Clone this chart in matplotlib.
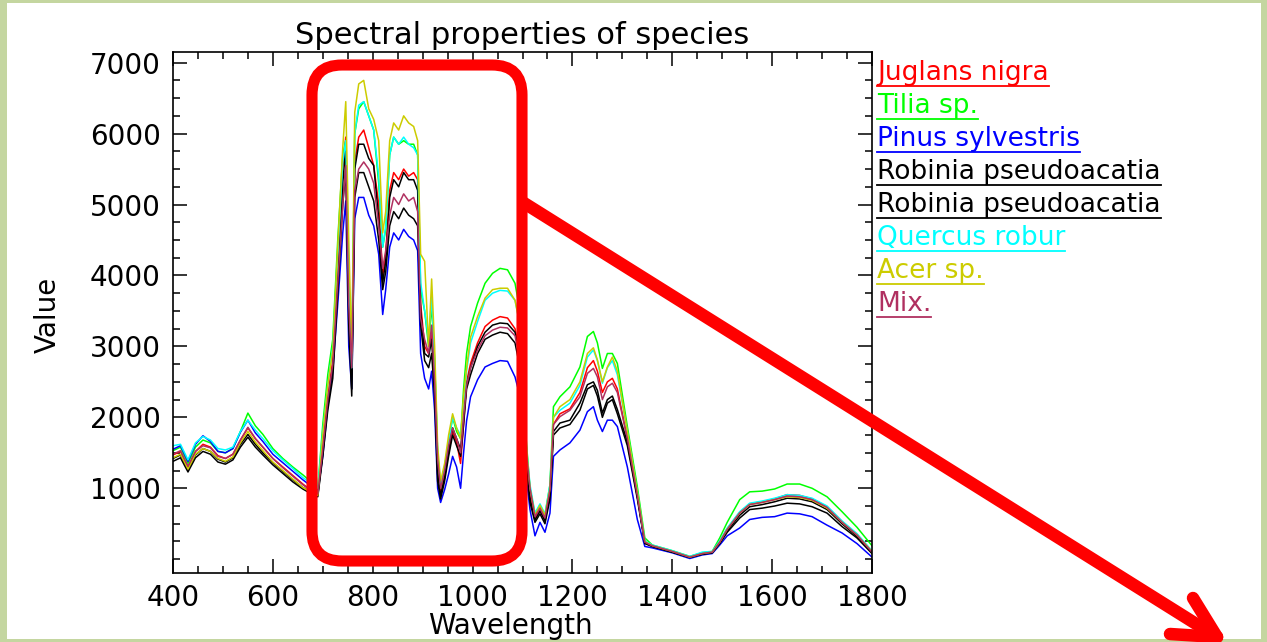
import matplotlib
matplotlib.use('Agg')
import matplotlib.pyplot as plt
from matplotlib.patches import FancyBboxPatch, Rectangle
from matplotlib.ticker import MultipleLocator

# wavelength grid (nm)
wavelength = [400, 415, 430, 445, 460, 475, 490, 505, 520, 535, 550, 565, 580, 600, 620, 640, 660, 675, 690,
              700, 710, 720, 730, 740, 746, 752, 758, 764, 772, 782, 792, 802, 812, 820, 826, 834, 842, 852, 862,
              872, 882, 890, 896, 904, 912, 918, 924, 930, 936,
              944, 952, 960, 968, 976, 982, 988, 996, 1010, 1025, 1040, 1055, 1070, 1085, 1095, 1105, 1115, 1125,
              1135, 1145, 1155, 1162, 1175,
              1195, 1215, 1230, 1242, 1250, 1260, 1270, 1280, 1290, 1310, 1330, 1345, 1360, 1400, 1435, 1460, 1480,
              1495, 1510, 1535, 1555, 1580, 1605, 1630, 1655, 1680, 1710, 1740, 1770, 1800]

juglans = [1470, 1520, 1300, 1520, 1620, 1580, 1460, 1420, 1480, 1680, 1850, 1700, 1580, 1420, 1300, 1180, 1060, 980, 920,
           1600, 2300, 2800, 4000, 5500, 5950, 3800, 2600, 5600, 5950, 6050, 5800, 5550, 5000, 4000, 4300, 5200, 5450, 5350, 5500,
           5400, 5450, 5350, 3600, 3000, 2900, 3200, 2500, 1300, 950,
           1200, 1500, 1800, 1650, 1350, 1900, 2500, 2760, 3050, 3280, 3370, 3420, 3400, 3250, 2900, 1600, 900, 580,
           700, 560, 950, 1900, 2050,
           2120, 2350, 2700, 2800, 2650, 2350, 2500, 2550, 2400, 1700, 900, 240, 190, 110, 30, 80, 100,
           250, 430, 660, 780, 810, 850, 910, 900, 850, 740, 530, 350, 100]

tilia = [1530, 1580, 1350, 1580, 1680, 1640, 1520, 1500, 1560, 1800, 2060, 1880, 1760, 1560, 1420, 1300, 1190, 1100, 1000,
         1900, 2600, 3100, 4500, 5700, 5900, 4000, 2700, 6000, 6350, 6450, 6250, 6050, 5300, 4400, 4650, 5700, 5950, 5850, 5900,
         5850, 5850, 5700, 3800, 3500, 3000, 3600, 2800, 1500, 1000,
         1300, 1650, 2000, 1800, 1700, 2400, 2900, 3280, 3610, 3890, 4030, 4100, 4080, 3890, 3500, 1900, 1000, 640,
         760, 620, 1050, 2150, 2290,
         2430, 2710, 3140, 3210, 3050, 2690, 2900, 2900, 2760, 1870, 1020, 300, 200, 120, 40, 90, 110,
         300, 520, 840, 950, 960, 990, 1060, 1060, 1000, 880, 670, 450, 190]

pinus = [1550, 1600, 1380, 1620, 1740, 1660, 1520, 1500, 1560, 1790, 1960, 1780, 1660, 1480, 1360, 1240, 1120, 1040, 960,
         1450, 2150, 2650, 3600, 4600, 5050, 3000, 2400, 4800, 5100, 5100, 4850, 4700, 4300, 3450, 3800, 4400, 4600, 4500, 4650,
         4550, 4500, 4350, 2900, 2550, 2400, 2650, 2100, 1000, 800,
         980, 1200, 1450, 1300, 1000, 1500, 1950, 2290, 2530, 2710, 2760, 2800, 2790, 2570, 2300, 1300, 700, 330,
         520, 380, 650, 1450, 1540,
         1640, 1820, 2080, 2150, 1960, 1800, 1960, 1960, 1870, 1300, 560, 180, 160, 90, 10, 60, 80,
         200, 330, 440, 560, 590, 600, 650, 640, 600, 480, 370, 220, 30]

robinia_1 = [1420, 1470, 1260, 1470, 1560, 1520, 1410, 1370, 1430, 1620, 1760, 1620, 1500, 1360, 1240, 1120, 1010, 950, 900,
             1500, 2200, 2700, 3900, 5300, 5800, 3500, 2400, 5500, 5850, 5850, 5650, 5550, 4800, 3900, 4200, 5100, 5350, 5250, 5450,
             5350, 5350, 5200, 3500, 2900, 2850, 3100, 2400, 1200, 900,
             1150, 1550, 1850, 1700, 1550, 2000, 2450, 2700, 3000, 3200, 3300, 3330, 3320, 3200, 2850, 1550, 850, 550,
             680, 540, 900, 1800, 1920,
             1960, 2200, 2460, 2500, 2380, 2060, 2250, 2300, 2110, 1650, 880, 230, 180, 100, 25, 75, 95,
             230, 400, 620, 740, 770, 810, 860, 850, 810, 700, 500, 320, 90]

robinia_2 = [1380, 1430, 1230, 1430, 1520, 1480, 1370, 1340, 1400, 1580, 1720, 1580, 1470, 1330, 1210, 1090, 990, 930, 880,
             1450, 2100, 2550, 3750, 5000, 5500, 3300, 2300, 5100, 5450, 5450, 5250, 5050, 4500, 3800, 4050, 4700, 4900, 4800, 4950,
             4850, 4800, 4700, 3300, 2800, 2700, 2900, 2300, 1100, 850,
             1100, 1450, 1750, 1600, 1450, 1900, 2400, 2600, 2900, 3100, 3160, 3200, 3180, 3050, 2700, 1500, 800, 520,
             640, 500, 850, 1750, 1850,
             1900, 2100, 2400, 2450, 2300, 2000, 2200, 2250, 2050, 1600, 850, 220, 180, 100, 25, 70, 90,
             220, 380, 580, 700, 720, 750, 790, 780, 740, 650, 460, 300, 80]

quercus = [1600, 1620, 1400, 1640, 1730, 1680, 1560, 1540, 1580, 1800, 1960, 1820, 1700, 1530, 1400, 1280, 1150, 1080, 1000,
           1800, 2450, 3000, 4300, 5600, 5900, 4000, 2700, 6000, 6400, 6450, 6250, 6050, 5400, 4400, 4700, 5700, 5950, 5850, 5950,
           5850, 5800, 5700, 3900, 3500, 3100, 3700, 2800, 1500, 1050,
           1300, 1650, 2000, 1850, 1750, 2200, 2650, 3050, 3350, 3650, 3750, 3790, 3780, 3650, 3300, 1800, 1050, 650,
           780, 640, 1050, 2000, 2100,
           2200, 2450, 2850, 2950, 2800, 2480, 2700, 2800, 2600, 1800, 950, 260, 200, 120, 40, 100, 110,
           260, 440, 670, 790, 820, 860, 910, 900, 860, 750, 540, 360, 120]

acer = [1430, 1480, 1270, 1480, 1560, 1520, 1420, 1380, 1440, 1640, 1800, 1650, 1530, 1370, 1250, 1130, 1010, 950, 900,
        1750, 2450, 2950, 4400, 5800, 6450, 4500, 2900, 6300, 6700, 6750, 6350, 6200, 5900, 4600, 4900, 5900, 6150, 6050, 6250,
        6150, 6100, 5900, 4300, 4200, 3000, 3950, 3000, 1600, 1100,
        1350, 1750, 2050, 1850, 1700, 2300, 2700, 3130, 3420, 3680, 3800, 3820, 3820, 3650, 3300, 1800, 1000, 620,
        760, 620, 1000, 2000, 2150,
        2250, 2500, 2900, 2980, 2810, 2500, 2710, 2850, 2650, 1800, 950, 250, 190, 110, 30, 80, 100,
        240, 420, 650, 770, 800, 840, 880, 870, 830, 720, 520, 340, 110]

mix = [1480, 1530, 1310, 1520, 1600, 1570, 1450, 1420, 1480, 1680, 1860, 1700, 1580, 1420, 1290, 1170, 1050, 970, 920,
       1550, 2250, 2750, 3900, 5000, 5550, 3600, 2700, 5200, 5500, 5600, 5500, 5300, 4700, 4100, 4350, 4850, 5100, 5000, 5150,
       5050, 5100, 4900, 3400, 3100, 2900, 3300, 2500, 1400, 1000,
       1250, 1600, 1850, 1700, 1500, 2000, 2450, 2700, 2950, 3150, 3230, 3270, 3260, 3150, 2800, 1700, 1000, 600,
       720, 580, 980, 1900, 2010,
       2100, 2290, 2620, 2690, 2570, 2250, 2430, 2480, 2350, 1700, 900, 240, 190, 110, 30, 80, 100,
       240, 420, 650, 770, 800, 840, 890, 880, 840, 730, 520, 340, 100]

species = ["Juglans nigra", "Tilia sp.", "Pinus sylvestris", "Robinia pseudoacatia",
           "Robinia pseudoacatia", "Quercus robur", "Acer sp.", "Mix."]
series = [juglans, tilia, pinus, robinia_1, robinia_2, quercus, acer, mix]
colors = ['#ff0000', '#00ff00', '#0000ff', '#000000', '#000000', '#00ffff', '#cccc00', '#b03060']

W, H = 1267, 642
fig = plt.figure(figsize=(W / 100, H / 100), dpi=100, facecolor='#c4d6a0')

# main plot area
ax = fig.add_axes([173 / W, 1 - 572.7 / H, (872 - 173) / W, (572.7 - 52) / H], zorder=2)
for vals, c in zip(series, colors):
    ax.plot(wavelength, vals, color=c, lw=1.1)

ax.set_xlim(400, 1800)
ax.set_ylim(-190, 7150)
ax.set_xticks(range(400, 1801, 200))
ax.set_yticks(range(1000, 7001, 1000))
ax.xaxis.set_minor_locator(MultipleLocator(50))
ax.yaxis.set_minor_locator(MultipleLocator(250))
ax.tick_params(which='both', direction='in', top=True, right=True, width=1.1, labelsize=20)
ax.tick_params(which='major', length=10)
ax.tick_params(which='minor', length=5)
ax.tick_params(axis='y', pad=9)
ax.tick_params(axis='x', pad=8)
for s in ax.spines.values():
    s.set_linewidth(1.2)

# overlay in pixel coordinates for frame, texts and the red marks
ov = fig.add_axes([0, 0, 1, 1], zorder=1)
ov.set_xlim(0, W)
ov.set_ylim(H, 0)
ov.axis('off')
ov.add_patch(Rectangle((7, 3), W - 13, H - 6, facecolor='white', edgecolor='none'))

top = fig.add_axes([0, 0, 1, 1], zorder=3)
top.set_xlim(0, W)
top.set_ylim(H, 0)
top.axis('off')
top.patch.set_alpha(0)

top.text(522, 44, "Spectral properties of species", fontsize=22, ha='center', va='baseline')
top.text(510, 634, "Wavelength", fontsize=20, ha='center', va='baseline')
top.text(48, 315, "Value", fontsize=20, rotation=90, ha='center', va='center')

labels = []
for i, (name, c) in enumerate(zip(species, colors)):
    t = top.text(877, 80 + 33 * i, name, fontsize=19, color=c, ha='left', va='baseline')
    labels.append(t)

fig.canvas.draw()
inv = top.transData.inverted()
for t, c in zip(labels, colors):
    bb = t.get_window_extent()
    x0, _ = inv.transform((bb.x0, bb.y0))
    x1, _ = inv.transform((bb.x1, bb.y0))
    yb = t.get_position()[1] + 6
    top.plot([x0, x1], [yb, yb], color=c, lw=1.3)

# red highlight box and arrow
top.add_patch(FancyBboxPatch((312, 65), 210, 496, boxstyle="round,pad=0,rounding_size=30",
                             facecolor='none', edgecolor='#ff0000', lw=8))
top.plot([524, 1217], [203, 637], color='#ff0000', lw=9, solid_capstyle='round')
top.plot([1170, 1217], [634, 637], color='#ff0000', lw=9, solid_capstyle='round')
top.plot([1193, 1217], [598, 637], color='#ff0000', lw=9, solid_capstyle='round')

fig.savefig("out.png", dpi=100, facecolor=fig.get_facecolor())
